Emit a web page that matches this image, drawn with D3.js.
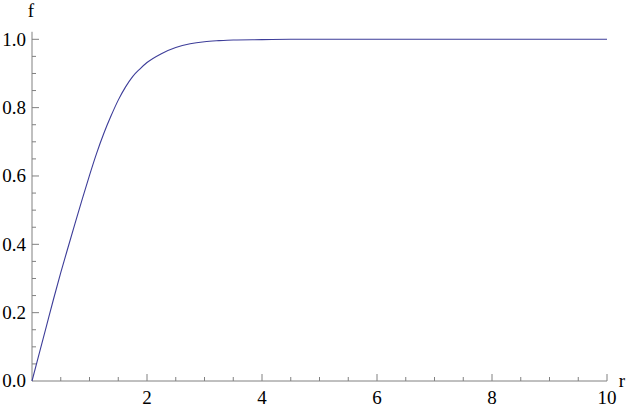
<!DOCTYPE html>
<html>
<head>
<meta charset="utf-8">
<script src="https://cdn.jsdelivr.net/npm/d3@7"></script>
<style>
  body { margin: 0; background: #fff; }
</style>
</head>
<body>
<svg id="chart"></svg>
<script>
const width = 629;
const height = 409;

// curve
const rValues = [0, 0.125, 0.25, 0.375, 0.5, 0.625, 0.75, 0.875, 1.0, 1.125, 1.25, 1.375, 1.5, 1.625, 1.75, 1.875, 2.0, 2.25, 2.5, 2.75, 3.0, 3.25, 3.5, 4.0, 4.5, 5, 6, 7, 8, 9, 10];
const fValues = [0, 0.08, 0.16, 0.24, 0.317, 0.39, 0.462, 0.533, 0.602, 0.667, 0.725, 0.776, 0.822, 0.86, 0.891, 0.913, 0.932, 0.958, 0.976, 0.987, 0.993, 0.996, 0.998, 0.999, 1.0, 1.0, 1.0, 1.0, 1.0, 1.0, 1.0];

const xTicks = [2, 4, 6, 8, 10];
const yTicks = [0, 0.2, 0.4, 0.6, 0.8, 1.0];
const xMinor = d3.range(0.5, 10.01, 0.5);
const yMinor = d3.range(0.05, 1.001, 0.05);

const serif = "'Liberation Serif', 'Times New Roman', Times, 'DejaVu Serif', serif";

const x = d3.scaleLinear().domain([0, 10]).range([32, 607]);
const y = d3.scaleLinear().domain([0, 1]).range([381, 39.3]);

const svg = d3.select("#chart").attr("width", width).attr("height", height);

const axisColor = "#808080";

// y axis
svg.append("line")
    .attr("x1", x(0)).attr("x2", x(0))
    .attr("y1", y(0)).attr("y2", y(1.022))
    .attr("stroke", axisColor).attr("stroke-width", 1);

svg.append("g").selectAll("line")
    .data(yMinor)
    .join("line")
    .attr("x1", x(0)).attr("x2", d => x(0) + (yTicks.some(t => Math.abs(t - d) < 1e-6) ? 7 : 4))
    .attr("y1", d => y(d)).attr("y2", d => y(d))
    .attr("stroke", axisColor).attr("stroke-width", 1);

svg.append("g").selectAll("text")
    .data(yTicks)
    .join("text")
    .attr("x", 26)
    .attr("y", d => y(d))
    .attr("dy", "0.34em")
    .attr("text-anchor", "end")
    .style("font-family", serif)
    .style("font-size", "19px")
    .text(d => d3.format(".1f")(d));

// x axis
svg.append("line")
    .attr("x1", x(0)).attr("x2", x(10))
    .attr("y1", y(0)).attr("y2", y(0))
    .attr("stroke", axisColor).attr("stroke-width", 1);

svg.append("g").selectAll("line")
    .data(xMinor)
    .join("line")
    .attr("x1", d => x(d)).attr("x2", d => x(d))
    .attr("y1", y(0)).attr("y2", d => y(0) - (d % 2 === 0 ? 7 : 4))
    .attr("stroke", axisColor).attr("stroke-width", 1);

svg.append("g").selectAll("text")
    .data(xTicks)
    .join("text")
    .attr("x", d => x(d))
    .attr("y", 404)
    .attr("text-anchor", "middle")
    .style("font-family", serif)
    .style("font-size", "19px")
    .text(d => d);

// axis labels
svg.append("text").attr("x", 31).attr("y", 17).attr("text-anchor", "middle")
    .style("font-family", serif).style("font-size", "19px").text("f");
svg.append("text").attr("x", 622).attr("y", 387).attr("text-anchor", "middle")
    .style("font-family", serif).style("font-size", "19px").text("r");

// the curve
const pts = rValues.map((r, i) => [r, fValues[i]]);
const line = d3.line()
    .x(d => x(d[0]))
    .y(d => y(d[1]))
    .curve(d3.curveMonotoneX);

svg.append("path")
    .datum(pts)
    .attr("fill", "none")
    .attr("stroke", "#3d3d99")
    .attr("stroke-width", 1.1)
    .attr("d", line);
</script>
</body>
</html>
